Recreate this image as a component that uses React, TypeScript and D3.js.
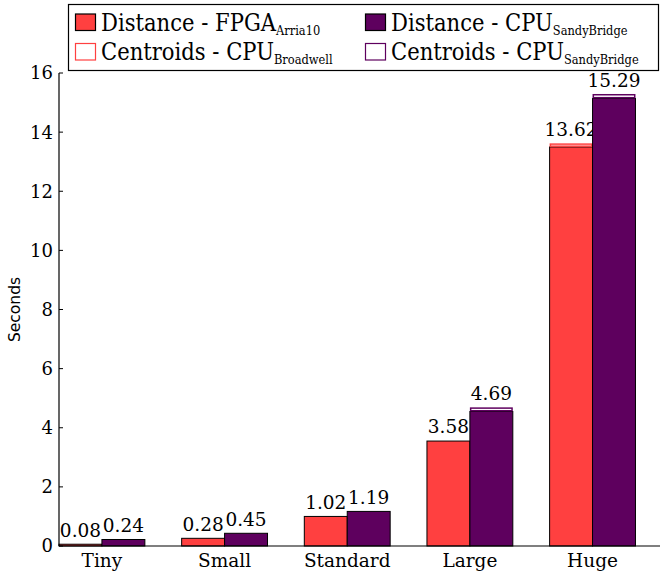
import React, { useEffect, useRef } from 'react';
import * as d3 from 'd3';

const categories = ['Tiny', 'Small', 'Standard', 'Large', 'Huge'];
const fpgaDistance = [0.06, 0.26, 1.0, 3.55, 13.5];
const fpgaCentroids = [0.02, 0.02, 0.02, 0.03, 0.12];
const fpgaLabels = ['0.08', '0.28', '1.02', '3.58', '13.62'];
const cpuDistance = [0.22, 0.43, 1.17, 4.55, 15.14];
const cpuCentroids = [0.02, 0.02, 0.02, 0.14, 0.15];
const cpuLabels = ['0.24', '0.45', '1.19', '4.69', '15.29'];
const yTicks = [0, 2, 4, 6, 8, 10, 12, 14, 16];

const RED = '#ff4040';
const PURPLE = '#5e005e';
const FONT = "'DejaVu Serif', serif";

const App: React.FC = () => {
  const svgRef = useRef<SVGSVGElement>(null);

  useEffect(() => {
    if (!svgRef.current) return;
    const W = 664, H = 574;
    const left = 59, right = 660, top = 73, bottom = 546;
    const barW = 0.35;

    const svg = d3.select(svgRef.current);
    svg.selectAll('*').remove();
    svg.attr('width', W).attr('height', H);

    const x = d3.scaleLinear().domain([0, 4.9]).range([left, right]);
    const y = d3.scaleLinear().domain([0, 16]).range([bottom, top]);

    const series = [
      { dist: fpgaDistance, cent: fpgaCentroids, labels: fpgaLabels, color: RED, off: 0 },
      { dist: cpuDistance, cent: cpuCentroids, labels: cpuLabels, color: PURPLE, off: barW },
    ];

    series.forEach(s => {
      const g = svg.append('g');
      // distance part of the bar
      g.selectAll('rect.dist')
        .data(categories)
        .enter()
        .append('rect')
        .attr('x', (_, i) => x(i + s.off))
        .attr('y', (_, i) => y(s.dist[i]))
        .attr('width', x(barW) - x(0))
        .attr('height', (_, i) => y(0) - y(s.dist[i]))
        .attr('fill', s.color)
        .attr('stroke', '#000')
        .attr('stroke-width', 1);
      // centroids part stacked on top
      g.selectAll('rect.cent')
        .data(categories)
        .enter()
        .append('rect')
        .attr('x', (_, i) => x(i + s.off) + 0.75)
        .attr('y', (_, i) => y(s.dist[i] + s.cent[i]) + 0.75)
        .attr('width', x(barW) - x(0) - 1.5)
        .attr('height', (_, i) => Math.max(0, y(s.dist[i]) - y(s.dist[i] + s.cent[i]) - 1.5))
        .attr('fill', '#fff')
        .attr('stroke', s.color)
        .attr('stroke-width', 1.5);
      // totals
      g.selectAll('text.val')
        .data(categories)
        .enter()
        .append('text')
        .attr('x', (_, i) => x(i + s.off + barW / 2))
        .attr('y', (_, i) => y(s.dist[i] + s.cent[i]) - 7)
        .attr('text-anchor', 'middle')
        .attr('font-family', FONT)
        .attr('font-size', 18.5)
        .attr('fill', '#000')
        .text((_, i) => s.labels[i]);
    });

    // y axis
    const yAxis = svg.append('g').attr('transform', `translate(${left},0)`);
    yAxis.append('line')
      .attr('x1', 0).attr('x2', 0).attr('y1', top).attr('y2', bottom)
      .attr('stroke', '#000').attr('stroke-width', 1.2);
    yTicks.forEach(t => {
      yAxis.append('line')
        .attr('x1', 0).attr('x2', 4).attr('y1', y(t)).attr('y2', y(t))
        .attr('stroke', '#000').attr('stroke-width', 1);
      yAxis.append('text')
        .attr('x', -6).attr('y', y(t)).attr('dy', '0.36em')
        .attr('text-anchor', 'end')
        .attr('font-family', FONT).attr('font-size', 18)
        .text(String(t));
    });
    svg.append('text')
      .attr('transform', `translate(20,${(top + bottom) / 2}) rotate(-90)`)
      .attr('text-anchor', 'middle')
      .attr('font-family', "'DejaVu Sans', sans-serif")
      .attr('font-size', 15.5)
      .text('Seconds');

    // x axis
    svg.append('line')
      .attr('x1', left).attr('x2', right).attr('y1', bottom).attr('y2', bottom)
      .attr('stroke', '#000').attr('stroke-width', 1.2);
    svg.selectAll('text.cat')
      .data(categories)
      .enter()
      .append('text')
      .attr('x', (_, i) => x(i + barW))
      .attr('y', bottom + 21)
      .attr('text-anchor', 'middle')
      .attr('font-family', FONT).attr('font-size', 18.5)
      .text(d => d);

    // legend
    const legend = svg.append('g');
    legend.append('rect')
      .attr('x', 68.5).attr('y', 4.5).attr('width', 590).attr('height', 66)
      .attr('fill', '#fff').attr('stroke', '#000').attr('stroke-width', 1.2);
    const items = [
      { col: 0, row: 0, main: 'Distance - FPGA', sub: 'Arria10', fill: RED, stroke: '#000' },
      { col: 1, row: 0, main: 'Distance - CPU', sub: 'SandyBridge', fill: PURPLE, stroke: '#000' },
      { col: 0, row: 1, main: 'Centroids - CPU', sub: 'Broadwell', fill: '#fff', stroke: RED },
      { col: 1, row: 1, main: 'Centroids - CPU', sub: 'SandyBridge', fill: '#fff', stroke: PURPLE },
    ];
    items.forEach(it => {
      const sx = it.col === 0 ? 75 : 365;
      const sy = it.row === 0 ? 13.5 : 43;
      const base = it.row === 0 ? 30.5 : 59.5;
      legend.append('rect')
        .attr('x', sx + 0.5).attr('y', sy + 0.5).attr('width', 20).attr('height', 16.5)
        .attr('fill', it.fill).attr('stroke', it.stroke).attr('stroke-width', 1.2);
      // glyphs in the source are taller than wide, so squeeze horizontally
      const t = legend.append('text')
        .attr('transform', `translate(${sx + 26},${base}) scale(0.88,1)`)
        .attr('font-family', FONT).attr('font-size', 24)
        .attr('fill', '#000');
      t.append('tspan').text(it.main);
      t.append('tspan').attr('font-size', 13).attr('dy', 4.5).text(it.sub);
    });
  }, []);

  return (
    <div style={{ position: 'absolute', left: 0, top: 0, background: '#fff' }}>
      <svg ref={svgRef} style={{ display: 'block' }}></svg>
    </div>
  );
};

export default App;
